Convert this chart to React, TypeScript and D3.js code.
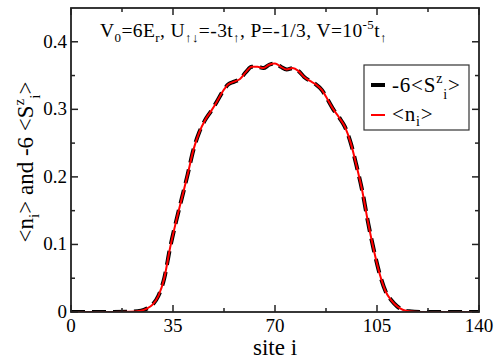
import React from "react";
import * as d3 from "d3";

const sites = [0, 10, 20, 24, 26, 28, 30, 32, 34, 36, 38, 40, 42, 44, 46, 48, 50, 52, 54, 56, 58, 60, 62, 64, 66, 68, 70, 72, 74, 76, 78, 80, 82, 84, 86, 88, 90, 92, 94, 96, 98, 100, 102, 104, 106, 108, 110, 112, 114, 116, 120, 130, 140];
const density = [0, 0, 0.0005, 0.002, 0.005, 0.011, 0.024, 0.05, 0.095, 0.133, 0.168, 0.203, 0.24, 0.266, 0.284, 0.297, 0.311, 0.326, 0.337, 0.341, 0.345, 0.355, 0.363, 0.363, 0.361, 0.366, 0.368, 0.363, 0.359, 0.361, 0.357, 0.348, 0.342, 0.337, 0.329, 0.315, 0.3, 0.288, 0.274, 0.25, 0.216, 0.178, 0.131, 0.09, 0.055, 0.03, 0.017, 0.008, 0.003, 0.001, 0, 0, 0];
const spin = [0, 0, 0.0005, 0.002, 0.005, 0.011, 0.024, 0.05, 0.095, 0.133, 0.168, 0.203, 0.24, 0.266, 0.284, 0.297, 0.311, 0.326, 0.337, 0.341, 0.345, 0.355, 0.363, 0.363, 0.361, 0.366, 0.368, 0.363, 0.359, 0.361, 0.357, 0.348, 0.342, 0.337, 0.329, 0.315, 0.3, 0.288, 0.274, 0.25, 0.216, 0.178, 0.131, 0.09, 0.055, 0.03, 0.017, 0.008, 0.003, 0.001, 0, 0, 0];
const xTicks = [0, 35, 70, 105, 140];
const xMinor = [17.5, 52.5, 87.5, 122.5];
const yTicks = [0, 0.1, 0.2, 0.3, 0.4];
const yTickLabels = ["0", "0.1", "0.2", "0.3", "0.4"];
const yMinor = [0.05, 0.15, 0.25, 0.35];

const W = 495, H = 360;
const L = 71, R = 479, T = 8, B = 312;
const FONT = "\"Liberation Serif\", \"Times New Roman\", Tinos, \"DejaVu Serif\", serif";

export default function App() {
  const x = d3.scaleLinear().domain([0, 140]).range([L, R]);
  const y = d3.scaleLinear().domain([0, 0.45]).range([B, T]);
  const line = d3.line<[number, number]>().x(d => x(d[0])).y(d => y(d[1])).curve(d3.curveMonotoneX);
  const spinPath = line(sites.map((s, i) => [s, spin[i]] as [number, number])) || "";
  const densPath = line(sites.map((s, i) => [s, density[i]] as [number, number])) || "";
  const axisColor = "#222";
  return (
    <svg width={W} height={H} style={{ position: "absolute", left: 0, top: 0, fontFamily: FONT }}>
      <rect x={0} y={0} width={W} height={H} fill="white" />
      <defs>
        <clipPath id="plot"><rect x={L} y={T} width={R - L} height={B - T} /></clipPath>
      </defs>
      <g clipPath="url(#plot)">
        <path d={spinPath} fill="none" stroke="#000" strokeWidth={4} strokeDasharray="14,7" />
        <path d={densPath} fill="none" stroke="#ff0000" strokeWidth={2} />
      </g>
      <rect x={L} y={T} width={R - L} height={B - T} fill="none" stroke={axisColor} strokeWidth={1.8} />
      {xTicks.map(t => (
        <g key={"xt" + t}>
          <line x1={x(t)} x2={x(t)} y1={B} y2={B - 7} stroke={axisColor} strokeWidth={1.5} />
          <line x1={x(t)} x2={x(t)} y1={T} y2={T + 7} stroke={axisColor} strokeWidth={1.5} />
          <text x={x(t)} y={332} fontSize={19} textAnchor="middle" fill="#000">{t}</text>
        </g>
      ))}
      {xMinor.map(t => (
        <g key={"xm" + t}>
          <line x1={x(t)} x2={x(t)} y1={B} y2={B - 4} stroke={axisColor} strokeWidth={1.5} />
          <line x1={x(t)} x2={x(t)} y1={T} y2={T + 4} stroke={axisColor} strokeWidth={1.5} />
        </g>
      ))}
      {yTicks.map((t, i) => (
        <g key={"yt" + t}>
          <line x1={L} x2={L + 7} y1={y(t)} y2={y(t)} stroke={axisColor} strokeWidth={1.5} />
          <line x1={R} x2={R - 7} y1={y(t)} y2={y(t)} stroke={axisColor} strokeWidth={1.5} />
          <text x={67} y={y(t) + 6} fontSize={19} textAnchor="end" fill="#000">{yTickLabels[i]}</text>
        </g>
      ))}
      {yMinor.map(t => (
        <g key={"ym" + t}>
          <line x1={L} x2={L + 4} y1={y(t)} y2={y(t)} stroke={axisColor} strokeWidth={1.5} />
          <line x1={R} x2={R - 4} y1={y(t)} y2={y(t)} stroke={axisColor} strokeWidth={1.5} />
        </g>
      ))}
      <text x={275} y={355} fontSize={23} textAnchor="middle" fill="#000">site i</text>
      <text transform={`translate(33, 162) rotate(-90)`} fontSize={23} textAnchor="middle" fill="#000">
        &lt;n<tspan dy={6} fontSize={15}>i</tspan><tspan dy={-6}>&gt; and -6 &lt;S</tspan><tspan dy={-9} fontSize={15}>z</tspan><tspan dy={16} fontSize={15}>i</tspan><tspan dy={-7}>&gt;</tspan>
      </text>
      <text x={100} y={37} fontSize={19.5} fill="#000" letterSpacing={0.4}>
        V<tspan dy={5} fontSize={13}>0</tspan><tspan dy={-5}>=6E</tspan><tspan dy={5} fontSize={13}>r</tspan><tspan dy={-5}>, U</tspan><tspan dy={5} fontSize={13}>↑↓</tspan><tspan dy={-5}>=-3t</tspan><tspan dy={5} fontSize={13}>↑</tspan><tspan dy={-5}>, P=-1/3, V=10</tspan><tspan dy={-8} fontSize={13}>-5</tspan><tspan dy={8}>t</tspan><tspan dy={5} fontSize={13}>↑</tspan>
      </text>
      <rect x={364} y={65} width={105} height={65} fill="white" stroke="#333" strokeWidth={1.2} />
      <line x1={371} x2={385} y1={85} y2={85} stroke="#000" strokeWidth={4} />
      <text x={392} y={92} fontSize={21} fill="#000" letterSpacing={0.8}>
        -6&lt;S<tspan dy={-9} fontSize={14}>z</tspan><tspan dy={16} fontSize={14}>i</tspan><tspan dy={-7}>&gt;</tspan>
      </text>
      <line x1={371} x2={385} y1={115} y2={115} stroke="#ff0000" strokeWidth={2} />
      <text x={392} y={121} fontSize={21} fill="#000" letterSpacing={0.8}>
        &lt;n<tspan dy={5} fontSize={14}>i</tspan><tspan dy={-5}>&gt;</tspan>
      </text>
    </svg>
  );
}
